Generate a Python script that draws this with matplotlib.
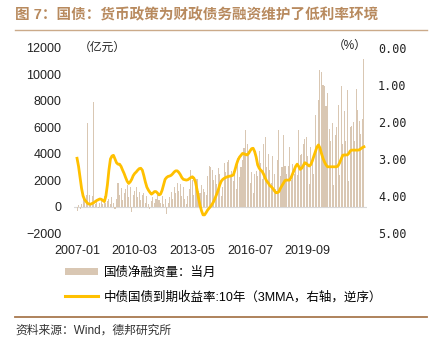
import matplotlib
matplotlib.use("Agg")
import matplotlib.pyplot as plt
from matplotlib.patches import Patch
from matplotlib.lines import Line2D
import numpy as np
import pandas as pd

plt.rcParams['font.family'] = ['Liberation Sans', 'Noto Sans CJK SC']

# 国债净融资量：当月 (亿元), 2007-01 .. 2022-10
net_2007 = [-300, 150, -200, 200, 1000, 500, 900, 6300, 900, 200, 800, 7900]
net_2008 = [200, 400, -100, 300, 500, 200, 800, 300, 400, 600, 200, 700]
net_2009 = [300, -200, 600, 1800, 900, 1400, 500, 1000, 1300, 1600, 700, 1500]
net_2010 = [-400, 900, 1200, 1500, 700, 1100, 500, 900, 1000, 300, 800, 200]
net_2011 = [-200, 400, 700, 300, 600, 900, 500, 300, 800, 200, 600, -600]
net_2012 = [300, 700, 1100, 600, 1500, 1000, 1800, 1200, 1700, 800, 1500, 600]
net_2013 = [200, 800, 1300, 2800, 2000, 900, 1500, 2100, 1200, 1000, 1600, 1300]
net_2014 = [1100, 900, 2300, 3100, 3000, 2800, 2000, 2400, 1700, 2900, 2500, 800]
net_2015 = [1500, 3300, 2600, 3400, 3550, 2400, 2700, 1900, 2800, 1300, 3700, 2200]
net_2016 = [3000, 3500, 4400, 5800, 4700, 4200, 1800, 2600, 1000, 2500, 2700, 2300]
net_2017 = [4200, 3300, 2100, 4700, 5300, 3000, 4000, 2800, 1800, 3800, 2500, 1300]
net_2018 = [3500, 5800, 2300, 3000, 5400, 3100, 2500, 3100, 4500, 2000, 3200, 2500]
net_2019 = [2900, 2400, 5800, 3900, 4000, 4700, 5100, 5300, 3800, 1700, 4500, 3500]
net_2020 = [2500, 6900, 4200, 8100, 10300, 10200, 9200, 9100, 7600, 8600, 5900, 5000]
net_2021 = [6300, 1600, 5400, 6000, 7700, 2400, 9100, 4700, 7200, 5000, 8800, 1900]
net_2022 = [6000, 6100, 6400, 5000, 8900, 7300, 6500, 5500, 6600, 11200]

# 中债国债到期收益率:10年 (3MMA, %)
yld_2007 = [2.98, 3.2, 3.5, 3.8, 4.0, 4.1, 4.15, 4.2, 4.22, 4.22, 4.2, 4.18]
yld_2008 = [4.15, 4.12, 4.1, 4.08, 4.09, 4.12, 4.15, 4.0, 3.7, 3.3, 3.0, 2.92]
yld_2009 = [2.9, 3.0, 3.1, 3.14, 3.14, 3.2, 3.3, 3.39, 3.5, 3.6, 3.66, 3.62]
yld_2010 = [3.55, 3.45, 3.39, 3.35, 3.3, 3.26, 3.25, 3.3, 3.45, 3.62, 3.76, 3.84]
yld_2011 = [3.9, 3.95, 3.92, 3.88, 3.88, 3.92, 3.97, 3.95, 3.85, 3.7, 3.55, 3.5]
yld_2012 = [3.47, 3.46, 3.44, 3.4, 3.35, 3.32, 3.32, 3.36, 3.42, 3.5, 3.55, 3.56]
yld_2013 = [3.57, 3.56, 3.53, 3.5, 3.48, 3.52, 3.62, 3.82, 4.05, 4.25, 4.4, 4.51]
yld_2014 = [4.51, 4.45, 4.38, 4.33, 4.28, 4.22, 4.15, 4.05, 3.95, 3.84, 3.7, 3.6]
yld_2015 = [3.55, 3.52, 3.5, 3.48, 3.47, 3.46, 3.45, 3.43, 3.3, 3.15, 3.03, 2.95]
yld_2016 = [2.9, 2.85, 2.86, 2.88, 2.89, 2.85, 2.78, 2.72, 2.71, 2.8, 2.95, 3.16]
yld_2017 = [3.25, 3.3, 3.34, 3.42, 3.52, 3.6, 3.65, 3.72, 3.75, 3.8, 3.86, 3.91]
yld_2018 = [3.91, 3.88, 3.79, 3.72, 3.65, 3.58, 3.57, 3.57, 3.57, 3.5, 3.4, 3.3]
yld_2019 = [3.2, 3.14, 3.2, 3.28, 3.25, 3.18, 3.1, 3.12, 3.16, 3.19, 3.15, 3.05]
yld_2020 = [2.92, 2.8, 2.68, 2.62, 2.7, 2.85, 2.98, 3.08, 3.16, 3.21, 3.21, 3.21]
yld_2021 = [3.21, 3.21, 3.21, 3.21, 3.18, 3.1, 3.0, 2.9, 2.89, 2.89, 2.89, 2.85]
yld_2022 = [2.78, 2.76, 2.76, 2.76, 2.76, 2.76, 2.75, 2.72, 2.69, 2.67]

net = (net_2007 + net_2008 + net_2009 + net_2010 + net_2011 + net_2012 + net_2013
       + net_2014 + net_2015 + net_2016 + net_2017 + net_2018 + net_2019 + net_2020
       + net_2021 + net_2022)
yld = (yld_2007 + yld_2008 + yld_2009 + yld_2010 + yld_2011 + yld_2012 + yld_2013
       + yld_2014 + yld_2015 + yld_2016 + yld_2017 + yld_2018 + yld_2019 + yld_2020
       + yld_2021 + yld_2022)

months = pd.period_range('2007-01', periods=len(net), freq='M')
x = np.arange(len(net))
tick_pos = [0, 38, 76, 114, 152]
tick_lab = [months[i].strftime('%Y-%m') for i in tick_pos]

bar_color = '#D9C7B3'
line_color = '#FFC000'
brown = '#B88A5E'

fig = plt.figure(figsize=(4.37, 3.51), dpi=100)
ax = fig.add_axes([74 / 437, 118 / 351, 293 / 437, 185 / 351])
ax.bar(x, net, width=0.7, color=bar_color, zorder=2)
ax.axhline(0, color='#D9D9D9', lw=0.8, zorder=1)
ax.set_xlim(-2, 191)
ax.set_ylim(-2000, 12000)
ax.set_yticks(range(-2000, 12001, 2000))
ax.set_xticks(tick_pos)
ax.set_xticklabels(tick_lab)
ax.tick_params(length=0, labelsize=9, colors='#222222')
ax.tick_params(axis='y', pad=9)
ax.tick_params(axis='x', pad=9)
for s in ax.spines.values():
    s.set_visible(False)
ax.text(0.015, 1.0, '（亿元）', transform=ax.transAxes, fontsize=8.5,
        va='center', ha='left', color='#222222')

ax2 = ax.twinx()
ax2.plot(x, yld, color=line_color, lw=2, zorder=3)
ax2.set_ylim(5, 0)
ax2.set_yticks([0, 1, 2, 3, 4, 5])
ax2.set_yticklabels(['%.2f' % v for v in [0, 1, 2, 3, 4, 5]],
                    family='DejaVu Sans Mono')
ax2.tick_params(length=0, labelsize=8.5, colors='#222222', pad=8)
for s in ax2.spines.values():
    s.set_visible(False)
ax2.text(1.0, 1.01, '（%）', transform=ax2.transAxes, fontsize=8.5,
         va='center', ha='right', color='#222222')

fig.text(15 / 437, 1 - 15 / 351, '图 7：国债：货币政策为财政债务融资维护了低利率环境',
         fontsize=10.5, fontweight='bold', color=brown, va='center', ha='left')
fig.add_artist(Line2D([15 / 437, 427 / 437], [1 - 30 / 351, 1 - 30 / 351],
                      color='#CBAA8A', lw=1))
fig.add_artist(Line2D([15 / 437, 427 / 437], [1 - 317 / 351, 1 - 317 / 351],
                      color='#A8784E', lw=1.3))
fig.text(15 / 437, 1 - 331 / 351, '资料来源：Wind，德邦研究所', fontsize=8.5,
         color='#333333', va='center', ha='left')

handles = [Patch(facecolor=bar_color, edgecolor='none'),
           Line2D([], [], color=line_color, lw=2.2)]
labels = ['国债净融资量：当月', '中债国债到期收益率:10年（3MMA，右轴，逆序）']
fig.legend(handles, labels, loc='upper left', bbox_to_anchor=(60 / 437, 1 - 262 / 351),
           frameon=False, fontsize=9, handlelength=2.6, handleheight=0.5,
           labelspacing=0.95, handletextpad=0.5, borderaxespad=0)

fig.savefig('out.png', dpi=100)
